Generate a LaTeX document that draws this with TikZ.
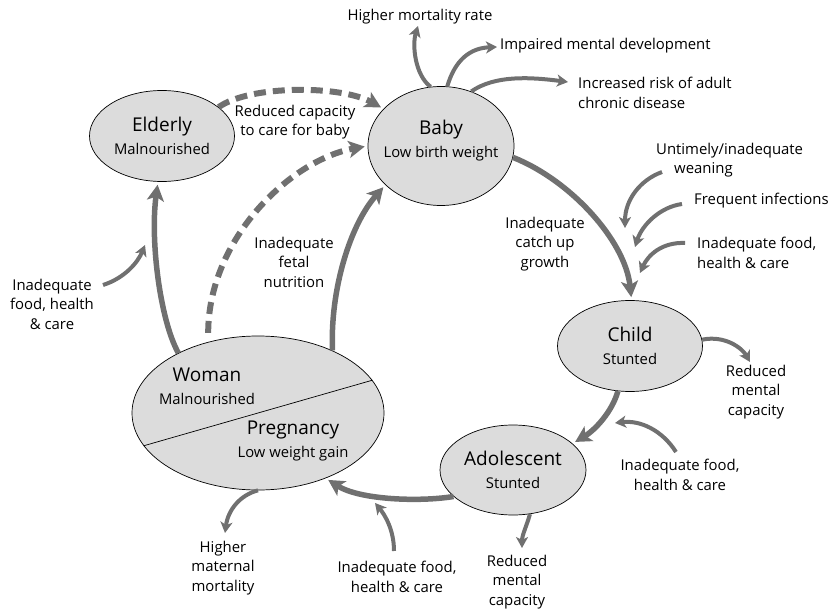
\documentclass[tikz,border=0pt]{standalone}
\usepackage{fontspec}
\setmainfont{Open Sans}
\usepackage{xcolor}
\usetikzlibrary{arrows.meta, shapes.geometric}
\definecolor{arrowgray}{HTML}{707070}
\definecolor{stagefill}{HTML}{DCDCDC}
\newcommand{\subfont}{\fontsize{14.8}{17}\selectfont}
\newcommand{\lblfont}{\fontsize{14.9}{19.5}\selectfont}
\newcommand{\stagefont}{\fontsize{19}{23}\selectfont}

\begin{document}
\begin{tikzpicture}[x=1pt, y=-1pt,
    stage/.style={ellipse, draw, fill=stagefill, line width=0.7pt, inner sep=0pt, align=center, font=\stagefont},
    lbl/.style={align=center, font=\lblfont, inner sep=0pt},
    cyc/.style={draw=arrowgray, line width=5.5pt, shorten >=3pt, -{Stealth[length=16pt, width=17pt, inset=4pt]}},
    cycdash/.style={cyc, line width=6pt, dash pattern=on 12pt off 7pt},
    side/.style={draw=arrowgray, line width=4pt, -{Stealth[length=11pt, width=12pt, inset=3pt]}}]
    \useasboundingbox (0,0) rectangle (829,612);

    % Life stages
    \node[stage, minimum width=145pt, minimum height=91pt] (elderly) at (162,136) {Elderly\\{\subfont Malnourished}};
    \node[stage, minimum width=146pt, minimum height=119pt] (baby) at (441,146) {};
    \node[lbl, font=\stagefont] (babytxt) at (441,141) {Baby\\{\subfont Low birth weight}};
    \node[stage, minimum width=145pt, minimum height=91pt] (child) at (630,346) {Child\\{\subfont Stunted}};
    \node[stage, minimum width=146pt, minimum height=90pt] (adol) at (513,470) {Adolescent\\{\subfont Stunted}};
    \node[stage, minimum width=252pt, minimum height=154pt] (woman) at (258,413) {};
    \draw[line width=0.7pt] (woman.196) -- (woman.16);
    \node[lbl, font=\stagefont] (womantxt) at (207,386) {Woman\\{\subfont Malnourished}};
    \node[lbl, font=\stagefont] (pregtxt) at (293,441) {Pregnancy\\{\subfont Low weight gain}};

    % Main cycle
    \draw[cycdash] (elderly.27) .. controls (250,85) and (340,85) .. (baby.147);
    \draw[cycdash, shorten <=9pt] (woman.125) .. controls (208,240) and (290,160) .. (baby.180);
    \draw[cyc] (woman.40) .. controls (330,290) and (350,225) .. (baby.215);
    \draw[cyc] (woman.143) .. controls (160,320) and (150,240) .. (elderly.-95);
    \draw[cyc] (baby.-9) .. controls (570,180) and (625,240) .. (child.88);
    \draw[cyc] (child.-105) .. controls (612,412) and (595,430) .. (adol.24);
    \draw[cyc] (adol.204) .. controls (420,502) and (360,500) .. (woman.-44);

    % Labels on the cycle
    \node[lbl] (caretxt) at (295,122) {Reduced capacity\\to care for baby};
    \node[lbl] (fetaltxt) at (294,262) {Inadequate\\fetal\\nutrition};
    \node[lbl] (catchtxt) at (545,244) {Inadequate\\catch up\\growth};

    % Outcomes and causes
    \node[lbl] (mortlbl) at (420,17) {Higher mortality rate};
    \node[lbl, anchor=west] (mentallbl) at (500,46) {Impaired mental development};
    \node[lbl, anchor=west, align=left] (chroniclbl) at (578,93) {Increased risk of adult\\chronic disease};
    \node[lbl, anchor=west, align=left] (weanlbl) at (656,160) {Untimely/inadequate\\\hspace*{18pt}weaning};
    \node[lbl, anchor=west] (infectlbl) at (694,201) {Frequent infections};
    \node[lbl, anchor=west, align=left] (childfoodlbl) at (697,253) {Inadequate food,\\health \& care};
    \node[lbl] (childmentlbl) at (756,392) {Reduced\\mental\\capacity};
    \node[lbl] (adolfoodlbl) at (680,475) {Inadequate food,\\health \& care};
    \node[lbl] (adolmentlbl) at (517,582) {Reduced\\mental\\capacity};
    \node[lbl] (womanfoodlbl) at (397,577) {Inadequate food,\\health \& care};
    \node[lbl] (maternlbl) at (223,568) {Higher\\maternal\\mortality};
    \node[lbl] (elderlyfoodlbl) at (52,304) {Inadequate\\food, health\\\& care};

    % Free ends of the side arrows
    \coordinate (elderlyin) at (103,285);
    \coordinate (elderlytip) at (145,245);
    \coordinate (morttip) at (418,26);
    \coordinate (mentaltip) at (497,47);
    \coordinate (chronictip) at (568,82);
    \coordinate (weanin) at (662,172);
    \coordinate (weantip) at (625,228);
    \coordinate (infectin) at (682,204);
    \coordinate (infecttip) at (635,247);
    \coordinate (childfoodin) at (685,243);
    \coordinate (childfoodtip) at (640,273);
    \coordinate (childmenttip) at (750,362);
    \coordinate (adolfoodin) at (676,452);
    \coordinate (adolfoodtip) at (615,423);
    \coordinate (adolmenttip) at (522,548);
    \coordinate (womanfoodin) at (394,551);
    \coordinate (womanfoodtip) at (375,503);
    \coordinate (materntip) at (225,533);

    % Side arrows
    \draw[side] (elderlyin) .. controls (125,278) and (138,262) .. (elderlytip);
    \draw[side] (baby.100) .. controls (415,75) and (412,45) .. (morttip);
    \draw[side] (baby.84) .. controls (455,60) and (470,48) .. (mentaltip);
    \draw[side] (baby.61) .. controls (495,75) and (530,77) .. (chronictip);
    \draw[side] (weanin) .. controls (640,180) and (625,200) .. (weantip);
    \draw[side] (infectin) .. controls (660,207) and (642,225) .. (infecttip);
    \draw[side] (childfoodin) .. controls (662,242) and (648,255) .. (childfoodtip);
    \draw[side] (child.5) .. controls (725,335) and (742,348) .. (childmenttip);
    \draw[side] (adolfoodin) .. controls (662,430) and (640,420) .. (adolfoodtip);
    \draw[side] (adol.-69) .. controls (527,525) and (522,535) .. (adolmenttip);
    \draw[side] (womanfoodin) .. controls (394,530) and (385,515) .. (womanfoodtip);
    \draw[side] (woman.-90) .. controls (240,495) and (228,510) .. (materntip);
\end{tikzpicture}
\end{document}
